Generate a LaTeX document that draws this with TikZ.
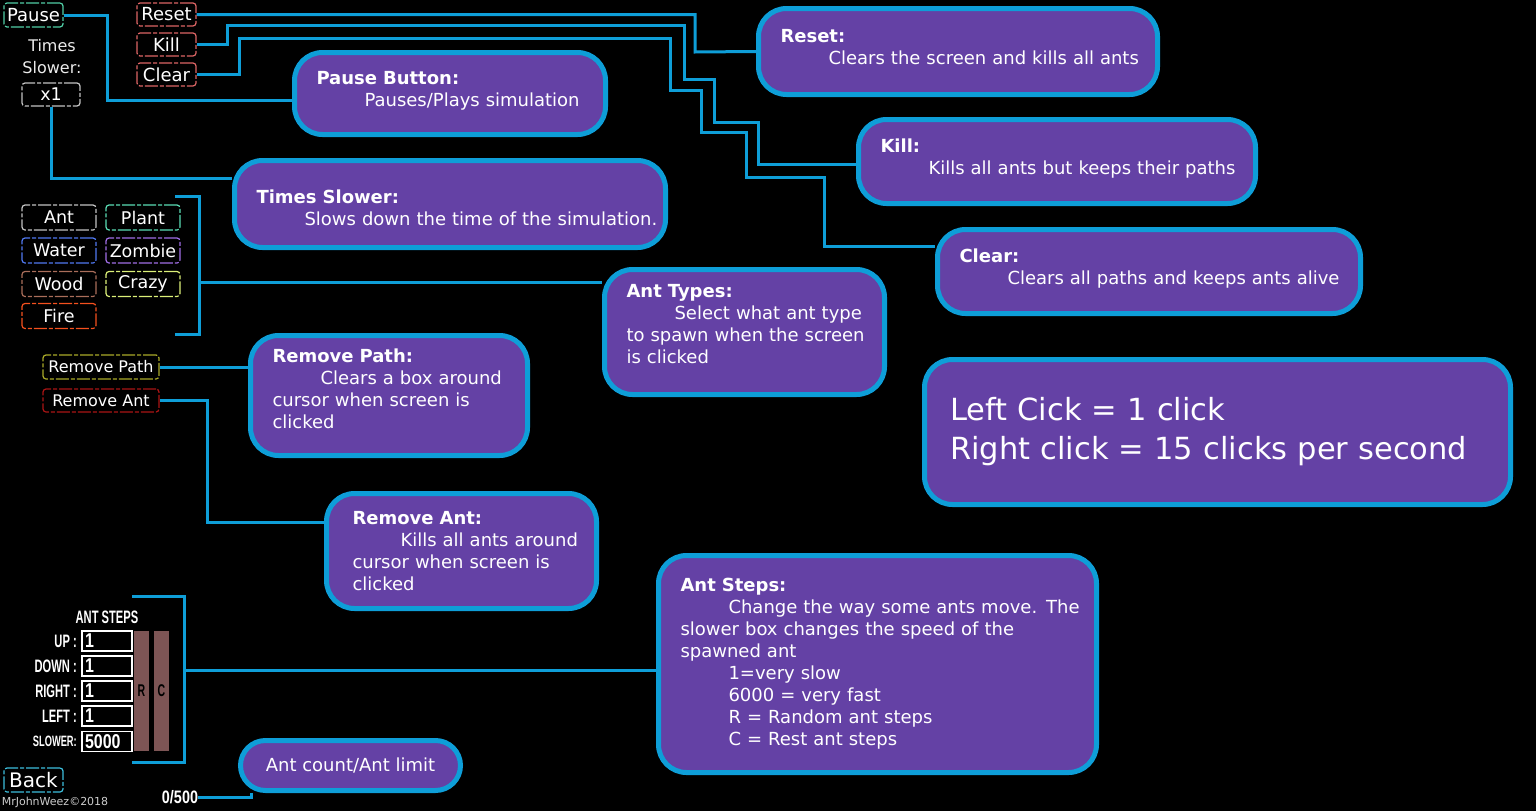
\documentclass[tikz,border=0pt]{standalone}
\usepackage{fontspec}
\setmainfont{DejaVu Sans}
\newfontfamily\stepfont[FakeStretch=0.62]{Liberation Sans}
\newfontfamily\countfont[FakeStretch=0.8]{Liberation Sans}
\usetikzlibrary{backgrounds}
\definecolor{boxfill}{RGB}{100,65,165}
\definecolor{boxline}{RGB}{14,158,216}
\definecolor{barbrown}{RGB}{125,85,85}
\definecolor{pausecol}{RGB}{80,205,165}
\definecolor{resetcol}{RGB}{220,100,100}
\definecolor{greycol}{RGB}{195,195,195}
\definecolor{plantcol}{RGB}{90,220,180}
\definecolor{watercol}{RGB}{80,120,240}
\definecolor{zombiecol}{RGB}{160,110,230}
\definecolor{woodcol}{RGB}{170,110,90}
\definecolor{crazycol}{RGB}{220,240,120}
\definecolor{firecol}{RGB}{245,80,30}
\definecolor{pathcol}{RGB}{170,170,40}
\definecolor{rmantcol}{RGB}{170,20,20}
\definecolor{backcol}{RGB}{60,190,220}
\newcommand{\infoindent}{\hspace*{48pt}}
\newcommand{\padbelow}[1]{\rule[-#1]{0pt}{#1}}
\newcommand{\padabove}[1]{\rule{0pt}{#1}}
\begin{document}
\begin{tikzpicture}[x=1pt, y=-1pt,
  info/.style={draw=boxline, line width=5pt, fill=boxfill, rounded corners=28pt, text=white, align=left, inner xsep=22pt, inner ysep=4pt, font=\fontsize{18}{22}\selectfont},
  link/.style={draw=boxline, line width=3pt},
  btn/.style={draw=#1, line width=1.2pt, rounded corners=3pt, dash pattern=on 13pt off 2pt on 4pt off 2pt, text=white, inner sep=0pt, minimum height=23pt, font=\fontsize{17.5}{20}\selectfont},
  field/.style={draw=white, line width=1.2pt, fill=black, text width=44pt, align=left, inner xsep=3pt, inner ysep=0pt, minimum height=20pt, text=white, font=\countfont\bfseries\fontsize{20}{20}\selectfont},
  steplabel/.style={anchor=east, text=white, inner sep=0pt, font=\stepfont\bfseries\fontsize{18}{20}\selectfont},
  bar/.style={fill=barbrown, minimum width=15pt, minimum height=120pt, inner sep=0pt, font=\stepfont\bfseries\fontsize{17}{20}\selectfont}]
\useasboundingbox (0,0) rectangle (1536,811);

% game buttons
\node[btn=pausecol, minimum width=59pt, minimum height=24pt, font=\fontsize{18}{20}\selectfont] (pause) at (33.5,15) {Pause};
\node[btn=resetcol, minimum width=59pt, font=\fontsize{18}{20}\selectfont] (reset) at (166.5,14.5) {Reset};
\node[btn=resetcol, minimum width=59pt, font=\fontsize{18}{20}\selectfont] (kill) at (166.5,44.5) {Kill};
\node[btn=resetcol, minimum width=59pt, font=\fontsize{18}{20}\selectfont] (clear) at (166.5,74.5) {Clear};
\node[text=white!92!black, align=center, font=\fontsize{16}{22}\selectfont] (slowlabel) at (52,57) {Times\\Slower:};
\node[btn=greycol, minimum width=58pt] (xone) at (51,94.5) {x1};

% ant types
\node[btn=greycol, minimum width=74pt, minimum height=25pt] (ant) at (59,217.5) {Ant};
\node[btn=plantcol, minimum width=74pt, minimum height=25pt] (plant) at (143,217.5) {Plant};
\node[btn=watercol, minimum width=74pt, minimum height=25pt] (water) at (59,250.5) {Water};
\node[btn=zombiecol, minimum width=74pt, minimum height=25pt] (zombie) at (143,250.5) {Zombie};
\node[btn=woodcol, minimum width=74pt, minimum height=25pt] (wood) at (59,284) {Wood};
\node[btn=crazycol, minimum width=74pt, minimum height=25pt] (crazy) at (143,284) {Crazy};
\node[btn=firecol, minimum width=74pt, minimum height=25pt] (fire) at (59,316) {Fire};
\node[btn=pathcol, minimum width=116pt, minimum height=24pt, font=\fontsize{16}{18}\selectfont] (rmpath) at (101,367) {Remove Path};
\node[btn=rmantcol, minimum width=116pt, font=\fontsize{16}{18}\selectfont] (rmant) at (101,400.5) {Remove Ant};

% ant steps panel
\node[text=white, inner sep=0pt, font=\stepfont\bfseries\fontsize{18}{20}\selectfont] (stepstitle) at (107,617) {ANT STEPS};
\node[steplabel] (uplabel) at (77,641) {UP :};
\node[steplabel] (downlabel) at (77,666) {DOWN :};
\node[steplabel] (rightlabel) at (77,691) {RIGHT :};
\node[steplabel] (leftlabel) at (77,716) {LEFT :};
\node[steplabel, font=\stepfont\bfseries\fontsize{15}{20}\selectfont] (slowerlabel) at (77,741.5) {SLOWER:};
\node[field] (upfield) at (107,641) {1};
\node[field] (downfield) at (107,666) {1};
\node[field] (rightfield) at (107,691) {1};
\node[field] (leftfield) at (107,716) {1};
\node[field] (slowerfield) at (107,741.5) {5000};
\node[bar] (rbar) at (141.5,691) {R};
\node[bar] (cbar) at (161.5,691) {C};
\node[btn=backcol, minimum width=59pt, minimum height=24pt, font=\fontsize{20}{20}\selectfont] (back) at (33.5,780) {Back};
\node[text=white!80!black, inner sep=0pt, font=\fontsize{11}{12}\selectfont] (credit) at (55,802) {MrJohnWeez©2018};
\node[text=white, inner sep=0pt, font=\countfont\bfseries\fontsize{18}{20}\selectfont] (count) at (180,797) {0/500};

% help boxes
\node[info, text width=355pt, minimum height=86pt] (resetinfo) at (958,51.5) {\textbf{Reset:}\\\mbox{\infoindent Clears the screen and kills all ants}\padbelow{10pt}};
\node[info, text width=353pt, minimum height=84pt] (killinfo) at (1057,161.5) {\textbf{Kill:}\\\mbox{\infoindent Kills all ants but keeps their paths}\padbelow{10pt}};
\node[info, text width=379pt, minimum height=84pt] (clearinfo) at (1149,271.5) {\textbf{Clear:}\\\mbox{\infoindent Clears all paths and keeps ants alive}\padbelow{10pt}};
\node[info, text width=267pt, minimum height=82pt] (pauseinfo) at (450,93.5) {\textbf{Pause Button:}\\\mbox{\infoindent Pauses/Plays simulation}\padbelow{10pt}};
\node[info, text width=387pt, minimum height=87pt] (slowinfo) at (450,204) {\padabove{22pt}\textbf{Times Slower:}\\\mbox{\infoindent Slows down the time of the simulation.}};
\node[info, text width=236pt, minimum height=125pt] (typesinfo) at (744.5,332) {\textbf{Ant Types:}\\\mbox{\infoindent Select what ant type}\\\mbox{to spawn when the screen}\\is clicked\padbelow{16pt}};
\node[info, text width=233pt, minimum height=120pt] (rmpathinfo) at (389,395.5) {\textbf{Remove Path:}\\\mbox{\infoindent Clears a box around}\\\mbox{cursor when screen is}\\clicked\padbelow{14pt}};
\node[info, text width=218pt, minimum height=115pt, inner xsep=26pt] (rmantinfo) at (461.5,551) {\textbf{Remove Ant:}\\\mbox{\infoindent Kills all ants around}\\\mbox{cursor when screen is}\\clicked};
\node[info, text width=394pt, minimum height=217pt] (stepsinfo) at (877.5,664) {\textbf{Ant Steps:}\\\mbox{\infoindent Change the way some ants move. The}\\\mbox{slower box changes the speed of the}\\spawned ant\\\infoindent 1=very slow\\\infoindent 6000 = very fast\\\infoindent R = Random ant steps\\\infoindent C = Rest ant steps};
\node[info, text width=535pt, minimum height=145pt, inner xsep=25.5pt, font=\fontsize{30.5}{39}\selectfont] (clickinfo) at (1217.5,432) {\mbox{Left Cick = 1 click}\\\mbox{Right click = 15 clicks per second}};
\node[info, minimum width=220pt, minimum height=50pt, rounded corners=25pt, align=center] (countinfo) at (350.5,765.5) {Ant count/Ant limit};

\coordinate (typesbrace) at (199,282);
\coordinate (stepsbrace) at (184,670);

\begin{scope}[on background layer]
\fill[black] (0,0) rectangle (1536,811);
\draw[link] (pause.east) -| (107,100) -- (pauseinfo.west |- 107,100);
\draw[link] (reset.east) -| (695,52) -- (resetinfo.west);
\draw[link] (kill.east) -| (227,25) -| (684,79) -| (714,122) -| (758,164) -- (killinfo.west |- 758,164);
\draw[link] (clear.east) -| (239,38) -| (670,90) -| (701,132) -| (746,177) -| (824,246) -- (clearinfo.west |- 824,246);
\draw[link] (xone.south) |- (slowinfo.west |- 53,178);
\draw[link] (175,196) -| (199,334) -- (175,334);
\draw[link] (typesbrace) -- (typesinfo.west |- typesbrace);
\draw[link] (rmpath.east) -- (rmpathinfo.west |- rmpath.east);
\draw[link] (rmant.east) -| (207,522) -- (rmantinfo.west |- 207,522);
\draw[link] (132,596) -| (184,762) -- (132,762);
\draw[link] (stepsbrace) -- (stepsinfo.west |- stepsbrace);
\draw[link] (count.east) -| (countinfo.south -| 251,0);
\end{scope}
\end{tikzpicture}
\end{document}
